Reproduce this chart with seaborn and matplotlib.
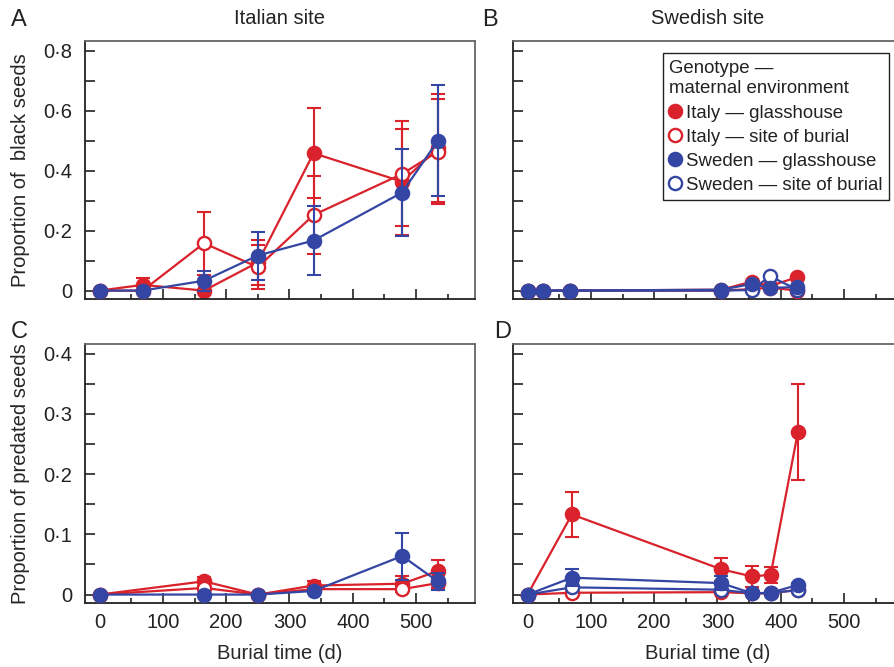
import matplotlib
matplotlib.use('Agg')
import matplotlib.pyplot as plt
from matplotlib.lines import Line2D
from matplotlib.ticker import MultipleLocator, FuncFormatter
import seaborn as sns

sns.set_style('ticks')
plt.rcParams['font.family'] = ['Liberation Sans', 'DejaVu Sans']
plt.rcParams['text.color'] = '#222222'

RED = '#d9222b'
BLUE = '#3446a3'

# --- A: Italian site, proportion of black seeds ---
a_x = [0, 68, 165, 250, 338, 478, 534]
a_it_gh = [0, 0.019, 0, 0.094, 0.458, 0.363, 0.474]
a_it_gh_err = [0, 0.022, 0, 0.075, 0.15, 0.176, 0.18]
a_it_sb = [0, 0, 0.158, 0.078, 0.252, 0.389, 0.463]
a_it_sb_err = [0, 0, 0.105, 0.074, 0.13, 0.175, 0.175]
a_sw_gh = [0, 0, 0.033, 0.117, 0.167, 0.327, 0.499]
a_sw_gh_err = [0, 0, 0.033, 0.08, 0.114, 0.145, 0.185]

# --- B: Swedish site, proportion of black seeds ---
b_x = [0, 25, 67, 306, 354, 383, 426]
b_it_gh = [0, 0, 0, 0.003, 0.03, 0.015, 0.045]
b_it_sb = [0, 0, 0, 0, 0.005, 0.01, 0.0]
b_sw_gh = [0, 0, 0, 0.003, 0.022, 0.009, 0.012]
b_sw_sb = [0, 0, 0, 0, 0.002, 0.048, 0.003]

# --- C: Italian site, proportion of predated seeds ---
c_x = [0, 165, 250, 338, 478, 534]
c_it_gh = [0, 0.022, 0, 0.015, 0.018, 0.039]
c_it_gh_err = [0, 0.007, 0, 0.008, 0.012, 0.019]
c_it_sb = [0, 0.011, 0, 0.009, 0.009, 0.019]
c_it_sb_err = [0, 0.004, 0, 0.004, 0.005, 0.008]
c_sw_gh = [0, 0, 0, 0.006, 0.064, 0.022]
c_sw_gh_err = [0, 0, 0, 0.003, 0.039, 0.014]

# --- D: Swedish site, proportion of predated seeds ---
d_x = [0, 70, 306, 355, 384, 427]
d_it_gh = [0, 0.133, 0.042, 0.030, 0.033, 0.270]
d_it_gh_err = [0, 0.038, 0.019, 0.017, 0.013, 0.079]
d_it_sb = [0, 0.003, 0.004, 0.002, 0.002, 0.008]
d_sw_gh = [0, 0.028, 0.019, 0.002, 0.003, 0.016]
d_sw_gh_err = [0, 0.014, 0.011, 0, 0, 0.004]
d_sw_sb = [0, 0.012, 0.008, 0.002, 0.003, 0.007]

legend_labels = ['Italy — glasshouse', 'Italy — site of burial',
                 'Sweden — glasshouse', 'Sweden — site of burial']
styles = [(RED, True), (RED, False), (BLUE, True), (BLUE, False)]


def draw_series(ax, x, y, err, color, filled, z):
    if err is not None:
        xs = [xi for xi, e in zip(x, err) if e > 0]
        ys = [yi for yi, e in zip(y, err) if e > 0]
        es = [e for e in err if e > 0]
        ax.errorbar(xs, ys, yerr=es, fmt='none', ecolor=color, elinewidth=1.5,
                    capsize=5, capthick=1.5, zorder=z)
    sns.lineplot(x=x, y=y, ax=ax, color=color, marker='o', markersize=9.5,
                 markerfacecolor=color if filled else 'white',
                 markeredgecolor=color, markeredgewidth=1.7, linewidth=1.6,
                 errorbar=None, legend=False, zorder=z + 0.5)


def style_axes(ax, ymax, ymajor, yminor, show_y, show_x):
    ax.set_xlim(-23, 593)
    ax.set_ylim(-0.035 * ymax, 1.04 * ymax)
    ax.xaxis.set_major_locator(MultipleLocator(100))
    ax.xaxis.set_minor_locator(MultipleLocator(50))
    ax.yaxis.set_major_locator(MultipleLocator(ymajor))
    ax.yaxis.set_minor_locator(MultipleLocator(yminor))
    ax.yaxis.set_major_formatter(FuncFormatter(
        lambda v, p: '0' if abs(v) < 1e-9 else f'{v:.1f}'.replace('.', '·')))
    ax.tick_params(axis='both', which='both', direction='in', colors='#222222',
                   width=1.2, labelsize=14.5, top=False, right=False)
    ax.tick_params(axis='x', which='major', length=7, pad=7)
    ax.tick_params(axis='x', which='minor', length=3.5)
    ax.tick_params(axis='y', which='both', length=7, pad=9)
    ax.tick_params(labelleft=show_y, labelbottom=show_x)
    for side in ['left', 'bottom']:
        ax.spines[side].set_color('#222222')
        ax.spines[side].set_linewidth(1.3)
    for side in ['top', 'right']:
        ax.spines[side].set_color('#666666')
        ax.spines[side].set_linewidth(1.3)


fig = plt.figure(figsize=(8.94, 6.67), dpi=100)
W, H = 894, 667
axA = fig.add_axes([85 / W, 1 - 299 / H, 390 / W, 258 / H])
axB = fig.add_axes([513 / W, 1 - 299 / H, 390 / W, 258 / H])
axC = fig.add_axes([85 / W, 1 - 603 / H, 390 / W, 259 / H])
axD = fig.add_axes([513 / W, 1 - 603 / H, 390 / W, 259 / H])

# panel A
draw_series(axA, a_x, a_it_gh, a_it_gh_err, RED, True, 2)
draw_series(axA, a_x, a_it_sb, a_it_sb_err, RED, False, 3)
draw_series(axA, a_x, a_sw_gh, a_sw_gh_err, BLUE, True, 4)

# panel B
draw_series(axB, b_x, b_it_gh, None, RED, True, 2)
draw_series(axB, b_x, b_it_sb, None, RED, False, 3)
draw_series(axB, b_x, b_sw_sb, None, BLUE, False, 4)
draw_series(axB, b_x, b_sw_gh, None, BLUE, True, 5)

# panel C
draw_series(axC, c_x, c_it_gh, c_it_gh_err, RED, True, 2)
draw_series(axC, c_x, c_it_sb, c_it_sb_err, RED, False, 3)
draw_series(axC, c_x, c_sw_gh, c_sw_gh_err, BLUE, True, 4)

# panel D
draw_series(axD, d_x, d_it_gh, d_it_gh_err, RED, True, 2)
draw_series(axD, d_x, d_it_sb, None, RED, False, 3)
draw_series(axD, d_x, d_sw_sb, None, BLUE, False, 4)
draw_series(axD, d_x, d_sw_gh, d_sw_gh_err, BLUE, True, 5)

style_axes(axA, 0.8, 0.2, 0.1, True, False)
style_axes(axB, 0.8, 0.2, 0.1, False, False)
style_axes(axC, 0.4, 0.1, 0.05, True, True)
style_axes(axD, 0.4, 0.1, 0.05, False, True)

axA.set_title('Italian site', fontsize=14.5, pad=12)
axB.set_title('Swedish site', fontsize=14.5, pad=12)
axA.set_ylabel('Proportion of  black seeds', fontsize=14.5)
axC.set_ylabel('Proportion of predated seeds', fontsize=14.5)
axA.yaxis.set_label_coords(-0.14, 0.5)
axC.yaxis.set_label_coords(-0.14, 0.5)
axB.set_ylabel('')
axD.set_ylabel('')
axA.set_xlabel('')
axB.set_xlabel('')
for ax in [axC, axD]:
    ax.set_xlabel('Burial time (d)', fontsize=14.5)
    ax.xaxis.set_label_coords(0.5, -0.16)

# panel letters
for letter, px, py in [('A', 11, 9), ('B', 482, 9), ('C', 11, 321), ('D', 494, 321)]:
    fig.text(px / W, 1 - py / H, letter, fontsize=17, ha='left', va='top')

handles = [Line2D([], [], ls='none', marker='o', markersize=9.5,
                  markerfacecolor=c if f else 'white', markeredgecolor=c,
                  markeredgewidth=1.7) for c, f in styles]
leg = axB.legend(handles, legend_labels, title='Genotype —\nmaternal environment',
                 loc='upper right', bbox_to_anchor=(889 / W, 1 - 53 / H),
                 bbox_transform=fig.transFigure, frameon=True, fancybox=False,
                 edgecolor='#222222', fontsize=13.4, title_fontsize=13.4,
                 handlelength=0.6, handletextpad=0.3, borderpad=0.35,
                 labelspacing=0.38, alignment='left', borderaxespad=0)
leg.get_title().set_linespacing(1.3)
leg.get_frame().set_linewidth(1.0)
leg.get_frame().set_alpha(1)

fig.savefig('out.png', dpi=100)
